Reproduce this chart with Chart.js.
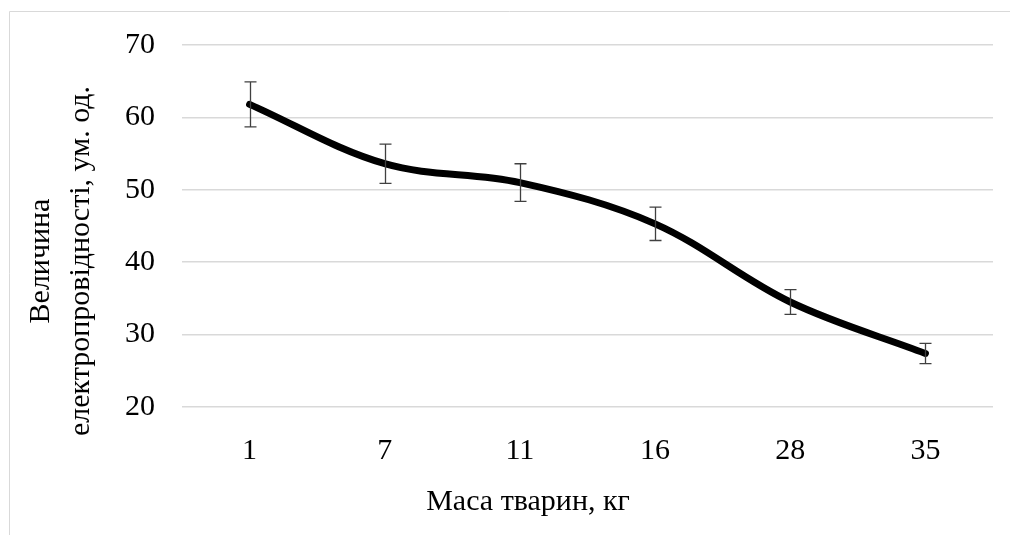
<!DOCTYPE html>
<html>
<head>
<meta charset="utf-8">
<script src="https://cdn.jsdelivr.net/npm/chart.js@4/dist/chart.umd.min.js"></script>
<style>
    body { margin: 0; background: #fff; }
    canvas { display: block; }
</style>
</head>
<body>
<canvas id="myChart" width="1010" height="535"></canvas>
<script>
// Маса тварин (кг) і середня електропровідність з похибкою
const masses = ['1', '7', '11', '16', '28', '35'];
const conductivity = [61.8, 53.6, 51.0, 45.3, 34.5, 27.4];
const errors = [3.1, 2.7, 2.6, 2.3, 1.7, 1.4];
const yTicks = [20, 30, 40, 50, 60, 70];

const serif = '"Liberation Serif", "Times New Roman", serif';

// Frame line at the top and left edge of the chart box
const frame = {
    id: 'frame',
    beforeDraw(chart) {
        const c = chart.ctx;
        c.save();
        c.strokeStyle = '#d9d9d9';
        c.lineWidth = 1;
        c.beginPath();
        c.moveTo(9.5, 535);
        c.lineTo(9.5, 11.5);
        c.lineTo(1010, 11.5);
        c.stroke();
        c.restore();
    }
};

// Vertical error bars with caps, placed through the chart scales
const errorBars = {
    id: 'errorBars',
    afterDatasetsDraw(chart) {
        const c = chart.ctx;
        const x = chart.scales.x, y = chart.scales.y;
        c.save();
        c.strokeStyle = '#404040';
        c.lineWidth = 1.3;
        conductivity.forEach((v, i) => {
            const px = Math.round(x.getPixelForValue(i)) + 0.5;
            const top = y.getPixelForValue(v + errors[i]);
            const bot = y.getPixelForValue(v - errors[i]);
            c.beginPath();
            c.moveTo(px, top); c.lineTo(px, bot);
            c.moveTo(px - 6, top); c.lineTo(px + 6, top);
            c.moveTo(px - 6, bot); c.lineTo(px + 6, bot);
            c.stroke();
        });
        c.restore();
    }
};

// Axis titles
const axisTitles = {
    id: 'axisTitles',
    afterDraw(chart) {
        const c = chart.ctx;
        c.save();
        c.fillStyle = '#000';
        c.font = '30px ' + serif;
        c.textAlign = 'center';
        c.textBaseline = 'middle';
        c.fillText('Маса тварин, кг', 528, 502);
        c.translate(0, 261);
        c.rotate(-Math.PI / 2);
        c.fillText('Величина', 0, 41);
        c.fillText('електропровідності, ум. од.', 0, 81);
        c.restore();
    }
};

new Chart(document.getElementById('myChart'), {
    type: 'line',
    data: {
        labels: masses,
        datasets: [{
            data: conductivity,
            borderColor: '#000',
            borderWidth: 7,
            borderCapStyle: 'round',
            borderJoinStyle: 'round',
            tension: 0.35,
            pointRadius: 0,
            fill: false
        }]
    },
    options: {
        responsive: false,
        animation: false,
        layout: { padding: { left: 18, right: 17, top: 44, bottom: 0 } },
        scales: {
            x: {
                offset: true,
                grid: { display: false, drawTicks: false },
                border: { display: false },
                ticks: { color: '#000', font: { family: serif, size: 30 }, padding: 26 },
                afterFit: s => { s.height = 128; }
            },
            y: {
                min: 20,
                max: 70,
                afterBuildTicks: s => { s.ticks = yTicks.map(v => ({ value: v })); },
                grid: { color: '#d9d9d9', lineWidth: 1.5, drawTicks: false },
                border: { display: false },
                ticks: { color: '#000', font: { family: serif, size: 30 }, padding: 27 },
                afterFit: s => { s.width = 164; }
            }
        },
        plugins: {
            legend: { display: false },
            tooltip: { enabled: false }
        }
    },
    plugins: [frame, errorBars, axisTitles]
});
</script>
</body>
</html>
